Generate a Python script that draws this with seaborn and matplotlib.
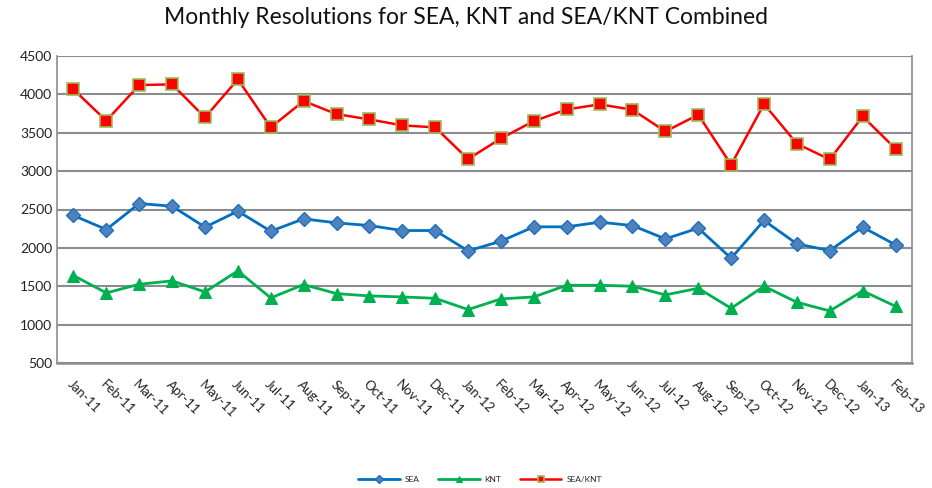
import matplotlib
matplotlib.use("Agg")
import matplotlib.pyplot as plt
import pandas as pd
import seaborn as sns

sns.set_theme(style="white")
plt.rcParams["font.family"] = ["Lato", "DejaVu Sans"]

months = ["Jan-11", "Feb-11", "Mar-11", "Apr-11", "May-11", "Jun-11", "Jul-11",
          "Aug-11", "Sep-11", "Oct-11", "Nov-11", "Dec-11", "Jan-12", "Feb-12",
          "Mar-12", "Apr-12", "May-12", "Jun-12", "Jul-12", "Aug-12", "Sep-12",
          "Oct-12", "Nov-12", "Dec-12", "Jan-13", "Feb-13"]

sea = [2422, 2239, 2578, 2543, 2270, 2478, 2217, 2378, 2326, 2291, 2226, 2226, 1961,
       2087, 2274, 2274, 2335, 2291, 2117, 2257, 1865, 2357, 2052, 1965, 2270, 2039]
knt = [1640, 1413, 1526, 1570, 1426, 1700, 1348, 1522, 1404, 1374, 1361, 1343, 1196,
       1335, 1361, 1513, 1513, 1500, 1387, 1474, 1213, 1500, 1291, 1178, 1439, 1239]
combined = [4065, 3656, 4122, 4130, 3700, 4196, 3570, 3913, 3743, 3674, 3596, 3570, 3157,
            3426, 3652, 3804, 3870, 3800, 3517, 3735, 3083, 3874, 3357, 3152, 3713, 3291]

df = pd.DataFrame({"month": months, "SEA": sea, "KNT": knt, "SEA/KNT": combined})

fig = plt.figure(figsize=(9.32, 4.88), dpi=100)
ax = fig.add_axes([57 / 932, 1 - 363 / 488, 855 / 932, 307 / 488])

sns.lineplot(data=df, x="month", y="SEA", ax=ax, color="#0070C0", linewidth=2,
             marker="D", markersize=7, markerfacecolor="#4F81BD",
             markeredgecolor="#1F6FBF", markeredgewidth=1, label="SEA")
sns.lineplot(data=df, x="month", y="KNT", ax=ax, color="#00B050", linewidth=2,
             marker="^", markersize=9, markerfacecolor="#00B050",
             markeredgecolor="#00B050", label="KNT")
sns.lineplot(data=df, x="month", y="SEA/KNT", ax=ax, color="#FF0000", linewidth=1.8,
             marker="s", markersize=8, markerfacecolor="#FF0000",
             markeredgecolor="#9BBB59", markeredgewidth=1.2, label="SEA/KNT")

ax.set_ylim(500, 4500)
ax.set_yticks(range(500, 4501, 500))
ax.set_xlim(-0.5, len(months) - 0.5)
ax.set_xlabel("")
ax.set_ylabel("")
ax.grid(axis="y", color="#8C8C8C", linewidth=1.5)
ax.set_axisbelow(True)
for side in ["left", "right", "bottom"]:
    ax.spines[side].set_color("#8C8C8C")
    ax.spines[side].set_linewidth(1.2)
ax.spines["bottom"].set_linewidth(1.8)
ax.spines["top"].set_visible(False)
ax.tick_params(axis="both", length=0, labelsize=10, colors="#222222")
ax.tick_params(axis="x", pad=11)
plt.setp(ax.get_xticklabels(), rotation=-45, ha="left", rotation_mode="anchor", fontsize=9.5)

ax.get_legend().remove()
handles, labels = ax.get_legend_handles_labels()
fig.legend(handles, labels, loc="lower center", bbox_to_anchor=(0.515, -0.005), ncol=3,
           frameon=False, fontsize=6, handlelength=5, columnspacing=2.2,
           handletextpad=0.6, markerscale=0.55)

fig.suptitle("Monthly Resolutions for SEA, KNT and SEA/KNT Combined", y=0.985,
             fontsize=16.5, color="#111111")

fig.savefig("out.png", dpi=100)
